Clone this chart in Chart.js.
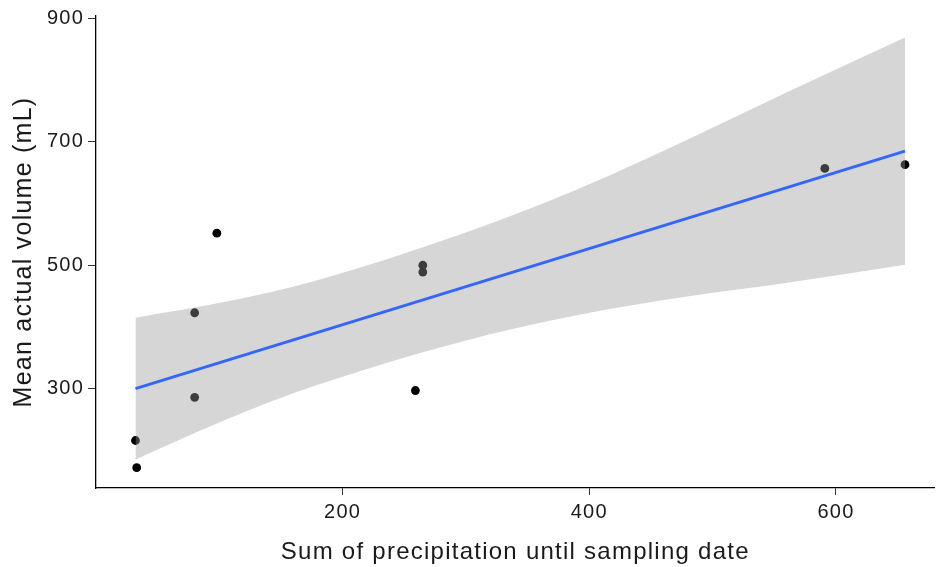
<!DOCTYPE html>
<html>
<head>
<meta charset="utf-8">
<script src="https://cdn.jsdelivr.net/npm/chart.js@4.4.1/dist/chart.umd.min.js"></script>
<style>
  html, body { margin: 0; padding: 0; background: #fff; }
  #wrap { width: 939px; height: 567px; }
</style>
</head>
<body>
<div id="wrap"><canvas id="myChart" width="939" height="567"></canvas></div>
<script>
// observed points (precipitation sum, mean actual volume)
const precip = [32, 33, 80, 80, 98, 259, 265, 265, 591, 656];
const volume = [216, 172, 423, 286, 552, 297, 500, 489, 657, 663];

// linear fit and its confidence band
const fitX = [32, 656];
const fitY = [300, 685];
const bandX = [32, 108, 178, 294, 390, 482, 562, 656];
const bandUpper = [415, 442, 475, 549, 623, 706, 782, 869];
const bandLower = [185, 252, 305, 375, 419, 450, 472, 501];

const xTicks = [200, 400, 600];
const yTicks = [300, 500, 700, 900];

const toXY = (xs, ys) => xs.map((x, i) => ({x: x, y: ys[i]}));

const font = 'Liberation Sans, Arial, sans-serif';
const textColor = '#1a1a1a';

// the reference text is a bit wider than Arial, spread the letters a little
const spacing = {
   id: 'spacing',
   beforeLayout: (chart) => { chart.ctx.letterSpacing = '1.25px'; },
   beforeDraw: (chart) => { chart.ctx.letterSpacing = '1.25px'; }
};

var ctx = document.getElementById('myChart').getContext('2d');

var chart = new Chart(ctx, {
   type: 'line',
   plugins: [spacing],
   data: {
      datasets: [
         {
            // upper edge of band, fills down to the lower edge
            data: toXY(bandX, bandUpper),
            borderWidth: 0,
            pointRadius: 0,
            backgroundColor: 'rgba(153,153,153,0.4)',
            fill: {target: 1},
            cubicInterpolationMode: 'monotone',
            order: 2
         },
         {
            data: toXY(bandX, bandLower),
            borderWidth: 0,
            pointRadius: 0,
            fill: false,
            cubicInterpolationMode: 'monotone',
            order: 2
         },
         {
            data: toXY(precip, volume),
            showLine: false,
            pointRadius: 4.4,
            pointBackgroundColor: '#000',
            pointBorderWidth: 0,
            order: 3
         },
         {
            data: toXY(fitX, fitY),
            borderColor: '#3366FF',
            borderWidth: 3,
            pointRadius: 0,
            fill: false,
            order: 1
         }
      ]
   },
   options: {
      responsive: false,
      animation: false,
      layout: {padding: {top: 13, right: 0, left: 0, bottom: 0}},
      plugins: {legend: {display: false}, tooltip: {enabled: false}},
      scales: {
         x: {
            type: 'linear',
            min: 0,
            max: 680,
            afterBuildTicks: (axis) => { axis.ticks = xTicks.map(v => ({value: v})); },
            afterFit: (axis) => { axis.height = 79; },
            grid: {drawOnChartArea: false, tickLength: 7, color: '#333', tickWidth: 1},
            border: {color: '#000', width: 1.3},
            ticks: {color: textColor, font: {family: font, size: 20}, padding: 5, maxRotation: 0},
            title: {display: true, text: 'Sum of precipitation until sampling date',
                    color: textColor, font: {family: font, size: 24}, padding: {top: 4, bottom: 0}}
         },
         y: {
            type: 'linear',
            min: 139,
            max: 904,
            afterBuildTicks: (axis) => { axis.ticks = yTicks.map(v => ({value: v})); },
            afterFit: (axis) => { axis.width = 96; },
            grid: {drawOnChartArea: false, tickLength: 8, color: '#333', tickWidth: 1},
            border: {color: '#000', width: 1.3},
            ticks: {color: textColor, font: {family: font, size: 20}, padding: 4},
            title: {display: true, text: 'Mean actual volume (mL)',
                    color: textColor, font: {family: font, size: 25}, padding: {top: 9, bottom: 0}}
         }
      }
   }
});
</script>
</body>
</html>
